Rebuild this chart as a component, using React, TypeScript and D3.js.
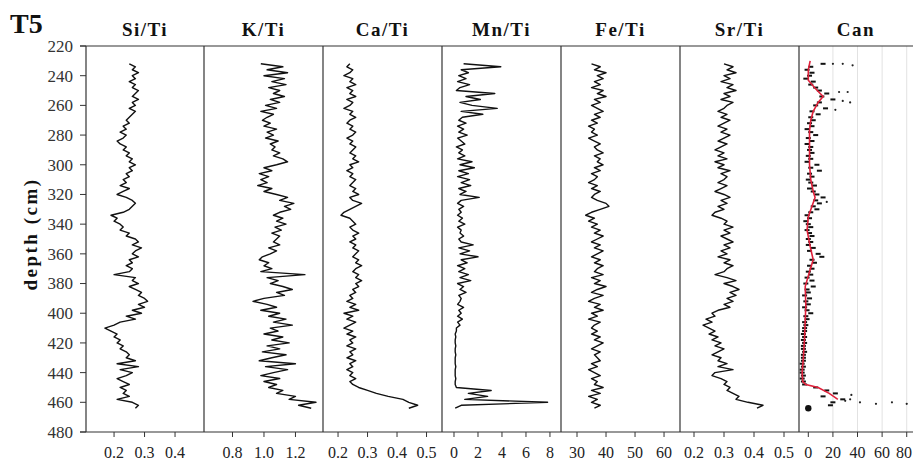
import React from "react";
import * as d3 from "d3";

// depth of each sample (cm)
const depth = [
  232, 234, 236, 238, 240, 242, 244, 246, 248, 250,
  252, 254, 256, 258, 260, 262, 264, 266, 268, 270,
  272, 274, 276, 278, 280, 282, 284, 286, 288, 290,
  292, 294, 296, 298, 300, 302, 304, 306, 308, 310,
  312, 314, 316, 318, 320, 322, 324, 326, 328, 330,
  332, 334, 336, 338, 340, 342, 344, 346, 348, 350,
  352, 354, 356, 358, 360, 362, 364, 366, 368, 370,
  372, 374, 376, 378, 380, 382, 384, 386, 388, 390,
  392, 394, 396, 398, 400, 402, 404, 406, 408, 410,
  412, 414, 416, 418, 420, 422, 424, 426, 428, 430,
  432, 434, 436, 438, 440, 442, 444, 446, 448, 450,
  452, 454, 456, 458, 460, 462, 464,
];

const siTi = [
  0.25, 0.27, 0.26, 0.28, 0.26, 0.27, 0.25, 0.27, 0.26, 0.28,
  0.27, 0.26, 0.28, 0.26, 0.27, 0.25, 0.27, 0.26, 0.25, 0.24,
  0.25, 0.23, 0.24, 0.22, 0.24, 0.23, 0.21, 0.22, 0.24, 0.23,
  0.25, 0.24, 0.26, 0.25, 0.27, 0.25, 0.26, 0.24, 0.25, 0.23,
  0.24, 0.22, 0.25, 0.23, 0.21, 0.24, 0.26, 0.27, 0.26, 0.25,
  0.23, 0.19, 0.21, 0.2, 0.22, 0.23, 0.22, 0.25, 0.24, 0.27,
  0.28, 0.26, 0.29, 0.27, 0.26, 0.28, 0.25, 0.26, 0.24, 0.26,
  0.25, 0.2, 0.27, 0.26, 0.28, 0.25, 0.27, 0.29, 0.28, 0.3,
  0.31, 0.28, 0.3, 0.26, 0.29, 0.24, 0.27, 0.22, 0.2, 0.17,
  0.19, 0.21, 0.2, 0.22, 0.21, 0.23, 0.22, 0.24, 0.25, 0.24,
  0.27, 0.21, 0.28, 0.22, 0.26, 0.24, 0.21, 0.23, 0.25, 0.22,
  0.24, 0.23, 0.25, 0.21, 0.26, 0.28, 0.27,
];

const kTi = [
  0.98, 1.12, 1.02, 1.15, 1.0, 1.13, 1.05, 1.14, 1.03, 1.1,
  1.06, 1.13, 1.04, 1.1, 1.01, 1.08, 0.98, 1.06, 1.02, 0.99,
  1.04, 1.0, 1.08, 1.02, 1.06, 1.01, 1.09, 1.04, 1.07, 1.05,
  1.1, 1.06, 1.12, 1.15, 1.08, 1.0, 1.05, 0.97, 1.03, 0.98,
  1.02, 0.96, 1.05, 1.0, 1.08, 1.15, 1.1, 1.19, 1.13, 1.17,
  1.1, 1.06, 1.12, 1.08, 1.14, 1.07, 1.11, 1.05, 1.1, 1.08,
  1.06, 1.1, 1.03, 1.08, 1.04, 0.99, 0.97, 1.03, 1.0, 1.05,
  0.98, 1.26, 1.02, 1.09, 1.04, 1.12, 1.18, 1.08, 1.13, 1.0,
  0.93, 1.02, 1.08, 0.98, 1.1, 1.03, 1.14, 1.06, 1.18, 1.04,
  1.09, 1.0, 1.12, 1.05, 1.16, 1.02, 1.1, 0.99, 1.14, 1.05,
  0.97, 1.2, 1.01, 1.15, 1.06, 0.98, 1.1, 1.0, 1.08, 1.03,
  1.12, 1.08, 1.2, 1.16, 1.33, 1.22, 1.3,
];

const caTi = [
  0.24, 0.23, 0.25, 0.24, 0.22, 0.25, 0.24, 0.26, 0.23, 0.25,
  0.24, 0.26, 0.23, 0.25, 0.24, 0.22, 0.25, 0.24, 0.26, 0.24,
  0.23, 0.25, 0.24, 0.26, 0.25, 0.23, 0.25, 0.24, 0.26, 0.25,
  0.24, 0.26, 0.25, 0.27, 0.24, 0.25, 0.23, 0.25, 0.24, 0.26,
  0.25, 0.24, 0.26, 0.25, 0.27, 0.24, 0.25, 0.28, 0.26, 0.24,
  0.22, 0.21, 0.24, 0.25, 0.26, 0.24, 0.25, 0.27, 0.25, 0.26,
  0.24, 0.26, 0.25, 0.27, 0.26, 0.25, 0.27, 0.26, 0.28, 0.26,
  0.25, 0.27, 0.26, 0.28, 0.26, 0.27, 0.25, 0.26, 0.24, 0.25,
  0.23, 0.26, 0.24, 0.27, 0.22, 0.25, 0.23, 0.26, 0.24, 0.22,
  0.25, 0.23, 0.26, 0.24, 0.25, 0.23, 0.26, 0.24, 0.25, 0.23,
  0.26, 0.24, 0.25, 0.23, 0.25, 0.24, 0.26, 0.24, 0.25, 0.27,
  0.3, 0.33, 0.37, 0.42, 0.44, 0.47, 0.44,
];

const mnTi = [
  0.8, 3.9, 0.6, 1.2, 0.4, 1.0, 0.3, 1.3, 0.5, 0.2,
  3.4, 1.0, 2.2, 0.5, 1.5, 3.6, 0.6, 2.4, 0.7, 0.4,
  1.0, 0.3, 0.8, 0.4, 1.1, 0.3, 0.6, 0.9, 0.2, 0.7,
  0.4, 0.9, 0.3, 1.5, 0.5, 1.7, 0.4, 1.2, 0.3, 1.3,
  0.6, 1.4, 0.4, 1.0, 0.5, 2.1, 0.6, 0.3, 0.8, 0.4,
  0.6, 0.3, 0.7, 0.4, 0.9, 0.3, 0.6, 0.5, 0.8, 0.4,
  0.6, 1.6, 0.4, 1.3, 0.5, 2.0, 0.6, 1.1, 0.3, 0.9,
  0.4, 1.2, 0.5, 1.4, 0.3, 0.8, 0.5, 1.0, 0.4, 0.6,
  0.5, 0.3, 0.8, 0.4, 0.6, 0.3, 0.7, 0.3, 0.5, 0.2,
  0.2, 0.1, 0.15, 0.1, 0.1, 0.15, 0.1, 0.1, 0.15, 0.1,
  0.1, 0.1, 0.15, 0.1, 0.1, 0.1, 0.15, 0.1, 0.1, 0.2,
  3.1, 1.2, 2.8, 0.9, 7.8, 0.6, 0.1,
];

const feTi = [
  35, 38, 36, 40, 37, 39, 36, 38, 35, 39,
  37, 40, 36, 38, 35, 37, 39, 36, 38, 35,
  37, 34, 36, 35, 37, 34, 36, 38, 36, 37,
  39, 36, 38, 37, 39, 36, 38, 35, 37, 36,
  34, 37, 35, 38, 36, 35, 37, 40, 41, 38,
  35, 33, 36, 34, 37, 35, 38, 36, 39, 37,
  35, 38, 36, 39, 37, 35, 38, 36, 39, 37,
  36, 39, 35, 38, 36, 40, 37, 35, 39, 36,
  34, 38, 36, 39, 35, 37, 34, 38, 36, 35,
  37, 35, 38, 36, 39, 37, 35, 38, 36, 37,
  38, 35, 37, 34, 36, 38, 35, 37, 36, 39,
  35, 38, 34, 37, 35, 38, 36,
];

const srTi = [
  0.3, 0.33, 0.31, 0.34, 0.3, 0.32, 0.29, 0.33, 0.31, 0.34,
  0.3, 0.32, 0.29, 0.33, 0.31, 0.3, 0.28, 0.31, 0.29, 0.32,
  0.3, 0.28, 0.31, 0.29, 0.32, 0.3, 0.28, 0.31, 0.29, 0.27,
  0.3, 0.28, 0.31, 0.27, 0.3, 0.28, 0.32, 0.29, 0.31, 0.3,
  0.28, 0.31, 0.29, 0.27, 0.3, 0.32, 0.29, 0.31, 0.28, 0.3,
  0.27, 0.26, 0.29, 0.31, 0.3, 0.33, 0.3, 0.32, 0.29, 0.31,
  0.33, 0.3, 0.32, 0.29, 0.31, 0.28, 0.32, 0.3, 0.33, 0.31,
  0.3, 0.27, 0.31, 0.34, 0.3, 0.33, 0.35, 0.32, 0.34, 0.31,
  0.33, 0.3, 0.32, 0.28, 0.26, 0.27, 0.24, 0.26, 0.23, 0.25,
  0.27, 0.25, 0.28, 0.26, 0.29, 0.27, 0.3, 0.28, 0.26, 0.29,
  0.28, 0.31, 0.28, 0.33, 0.27, 0.26, 0.29, 0.31, 0.3, 0.32,
  0.31, 0.33, 0.35, 0.34, 0.38, 0.43, 0.41,
];

// Can: raw points, extra scattered points and the smoothed red curve
const can = [
  12, 2, -1, 3, 1, -2, 4, 2, 6, 9,
  15, 11, 20, 9, 6, 14, 3, 8, 2, 4,
  1, 3, -1, 2, 6, 0, 3, -1, 2, 1,
  3, 0, 2, -1, 7, 2, 9, 1, 3, 0,
  2, 5, 1, 4, 7, 12, 6, 9, 4, 7,
  2, -1, 1, -2, 0, 2, -1, 1, 3, 0,
  2, 0, 4, 1, 8, 11, 3, 5, 1, 3,
  0, 2, -1, 3, -2, 4, -1, 0, -3, 1,
  -2, 0, -3, -1, 2, -2, -1, -3, -2, -3,
  -3, -4, -3, -4, -3, -4, -4, -3, -4, -4,
  -4, -5, -4, -5, -5, -4, -5, -4, -3, 6,
  15, 22, 12, 28, 20, 18, 0,
];
const canExtraDepth = [232, 232, 233, 251, 251, 257, 258, 263, 325, 455, 458, 459, 460, 460, 461, 461];
const canExtra = [20, 28, 36, 25, 32, 28, 34, 22, 15, 35, 34, 30, 42, 68, 55, 80];
const canBlobDepth = [464];
const canBlob = [0];
const canSmoothDepth = [230, 236, 243, 248, 254, 258, 264, 270, 277, 290, 300, 310, 318, 322, 328, 335, 344, 355, 364, 372, 382, 395, 405, 416, 430, 440, 446, 448, 450, 454, 458];
const canSmooth = [1.5, 0, 0, 5, 12, 8, 4, 2, 1, 1, 1, 2, 4, 5.5, 3, 0, -1, 1.5, 4, 1, -2.5, -2, -2.5, -3, -4, -5, -4.5, -2, 8, 17, 24];

const depthTicks = [220, 240, 260, 280, 300, 320, 340, 360, 380, 400, 420, 440, 460, 480];

const W = 913;
const H = 463;
const TOP = 46;
const BOTTOM = 432;
const FONT = '"Liberation Serif", "DejaVu Serif", serif';

const panels = [
  { title: "Si/Ti", values: siTi, x0: 86, x1: 204, domain: [0.108, 0.495], ticks: [0.2, 0.3, 0.4], fmt: ".1f" },
  { title: "K/Ti", values: kTi, x0: 204, x1: 323, domain: [0.619, 1.375], ticks: [0.8, 1.0, 1.2], fmt: ".1f" },
  { title: "Ca/Ti", values: caTi, x0: 323, x1: 442, domain: [0.149, 0.5525], ticks: [0.2, 0.3, 0.4, 0.5], fmt: ".1f" },
  { title: "Mn/Ti", values: mnTi, x0: 442, x1: 561, domain: [-1, 8.92], ticks: [0, 2, 4, 6, 8], fmt: "d" },
  { title: "Fe/Ti", values: feTi, x0: 561, x1: 680, domain: [24.48, 65.5], ticks: [30, 40, 50, 60], fmt: "d" },
  { title: "Sr/Ti", values: srTi, x0: 680, x1: 799, domain: [0.1533, 0.55], ticks: [0.2, 0.3, 0.4, 0.5], fmt: ".1f" },
  { title: "Can", values: null, x0: 799, x1: 913, domain: [-7.56, 85.1], ticks: [0, 20, 40, 60, 80], fmt: "d" },
];

const y = d3.scaleLinear().domain([220, 480]).range([TOP, BOTTOM]);

const Panel = ({ p }) => {
  const x = d3.scaleLinear().domain(p.domain).range([p.x0, p.x1]);
  const format = d3.format(p.fmt);
  const cx = (p.x0 + p.x1) / 2;
  let marks = null;
  if (p.values) {
    const line = d3
      .line<number>()
      .x((v) => x(v))
      .y((_, i) => y(depth[i]));
    marks = <path d={line(p.values) || ""} fill="none" stroke="#111" strokeWidth={1.4} strokeLinejoin="round" />;
  } else {
    const smooth = d3
      .line<number>()
      .x((v) => x(v))
      .y((_, i) => y(canSmoothDepth[i]));
    marks = (
      <g>
        {[20, 40, 60, 80].map((t) => (
          <line key={t} x1={x(t)} x2={x(t)} y1={TOP} y2={BOTTOM} stroke="#e2e2e2" strokeWidth={1} />
        ))}
        {can.map((v, i) => (
          <rect key={"c" + i} x={x(v) - 2.5} y={y(depth[i]) - 1} width={5} height={2} fill="#111" />
        ))}
        {canExtra.map((v, i) => (
          <circle key={"e" + i} cx={x(v)} cy={y(canExtraDepth[i])} r={1.1} fill="#222" />
        ))}
        {canBlob.map((v, i) => (
          <circle key={"b" + i} cx={x(v)} cy={y(canBlobDepth[i])} r={3.2} fill="#111" />
        ))}
        <path d={smooth(canSmooth) || ""} fill="none" stroke="#e0203a" strokeWidth={1.6} />
      </g>
    );
  }
  return (
    <g>
      {marks}
      <line x1={p.x0} x2={p.x0} y1={TOP} y2={BOTTOM} stroke="#333" strokeWidth={1.2} />
      <text x={cx} y={36} textAnchor="middle" fontSize={19} fontWeight="bold" letterSpacing={1.5} fill="#111">
        {p.title}
      </text>
      {p.ticks.map((t) => (
        <g key={t}>
          <line x1={x(t)} x2={x(t)} y1={BOTTOM} y2={BOTTOM + 5} stroke="#333" strokeWidth={1} />
          <text x={Math.min(x(t), W - 9)} y={458} textAnchor="middle" fontSize={16} fill="#222">
            {format(t)}
          </text>
        </g>
      ))}
    </g>
  );
};

export default function App() {
  return (
    <svg
      width={W}
      height={H}
      style={{ position: "absolute", left: 0, top: 0, background: "#fff", fontFamily: FONT }}
    >
      <rect width={W} height={H} fill="#fff" />
      <text x={10} y={33} fontSize={28} fontWeight="bold" fill="#111">
        T5
      </text>
      <text
        transform={`translate(37, ${(TOP + BOTTOM) / 2 - 5}) rotate(-90)`}
        textAnchor="middle"
        fontSize={19}
        fontWeight="bold"
        letterSpacing={2.5}
        fill="#111"
      >
        depth (cm)
      </text>
      {depthTicks.map((d) => (
        <g key={d}>
          <line x1={80} x2={86} y1={y(d)} y2={y(d)} stroke="#333" strokeWidth={1} />
          <text x={73} y={y(d)} dy="0.35em" textAnchor="end" fontSize={17} fill="#333">
            {d}
          </text>
        </g>
      ))}
      {panels.map((p) => (
        <Panel key={p.title} p={p} />
      ))}
      <line x1={80} x2={W} y1={TOP} y2={TOP} stroke="#333" strokeWidth={1.2} />
      <line x1={80} x2={W} y1={BOTTOM} y2={BOTTOM} stroke="#333" strokeWidth={1.2} />
    </svg>
  );
}
